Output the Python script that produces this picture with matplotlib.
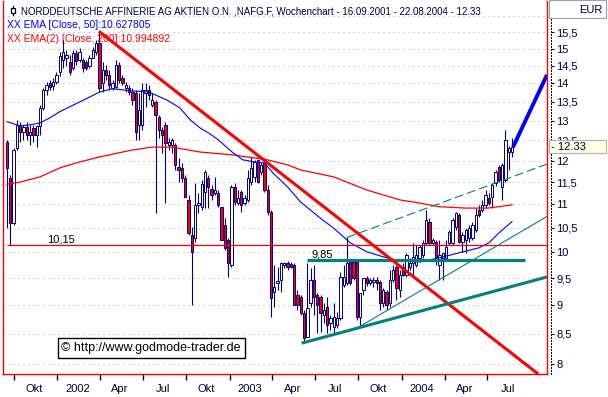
import numpy as np
import pandas as pd
import matplotlib
matplotlib.use("Agg")
import matplotlib.pyplot as plt
from matplotlib.ticker import FixedLocator, FixedFormatter, NullLocator
from matplotlib.patches import Rectangle
from matplotlib.lines import Line2D

plt.rcParams["font.family"] = ["Liberation Sans", "DejaVu Sans"]

# ==========================================
# 1) data (weekly candles, 16.09.2001 - 22.08.2004)
# ==========================================
START = pd.Timestamp("2001-09-16")

open_ = [
    12.46, 11.60, 10.60, 12.31, 12.89, 12.71, 12.84, 12.63, 12.81, 12.63,
    12.86, 13.33, 13.82, 14.02, 13.93, 14.04, 14.32, 14.67, 14.73, 14.61,
    14.44, 14.88, 14.67, 14.67, 14.61, 14.49, 14.73, 14.90, 15.17, 14.02,
    14.38, 14.24, 13.88, 13.90, 14.52, 14.16, 13.88, 13.88, 13.76, 13.73,
    12.89, 12.89, 13.73, 13.82, 13.41, 13.49, 13.10, 12.76, 12.89, 12.38,
    12.38, 12.38, 11.85, 11.83, 11.60, 11.10, 10.35, 10.29, 10.99, 10.95,
    11.28, 11.60, 11.34, 11.25, 11.25, 10.95, 10.56, 10.25, 9.75, 11.39,
    11.03, 11.28, 11.03, 11.10, 11.50, 11.62, 12.02, 11.73, 11.95, 11.32,
    10.84, 9.24, 9.41, 9.46, 9.75, 9.79, 9.77, 9.75, 9.18, 9.15,
    8.86, 8.45, 9.04, 9.46, 9.18, 9.15, 8.83, 8.97, 8.69, 8.62,
    8.65, 8.77, 9.37, 9.41, 9.81, 9.81, 9.81, 8.79, 9.28, 9.50,
    9.41, 9.43, 9.46, 9.43, 9.04, 9.24, 9.04, 9.46, 9.71, 9.28,
    9.71, 9.56, 9.71, 9.79, 9.75, 9.89, 9.95, 10.19, 10.62, 10.19,
    10.21, 9.75, 9.89, 9.89, 10.19, 10.19, 10.52, 10.77, 10.21, 10.25,
    10.29, 10.29, 10.45, 10.88, 10.88, 10.99, 11.14, 11.17, 11.48, 11.85,
    11.39, 11.55, 12.21, 12.21,
]
high_ = [
    12.51, 11.66, 12.31, 13.02, 12.97, 12.89, 12.97, 12.89, 12.89, 12.89,
    13.41, 13.88, 14.04, 14.10, 14.16, 14.32, 14.90, 15.26, 14.96, 14.82,
    14.96, 14.96, 15.02, 14.73, 14.67, 14.82, 15.05, 15.26, 15.48, 14.61,
    14.52, 14.38, 14.10, 14.67, 14.61, 14.24, 14.04, 13.96, 13.88, 13.82,
    13.73, 14.02, 14.02, 13.96, 13.73, 13.54, 13.15, 12.84, 12.97, 12.56,
    12.56, 12.43, 12.07, 11.95, 11.66, 11.21, 10.52, 11.48, 11.25, 11.55,
    11.78, 11.66, 11.43, 11.62, 11.32, 10.95, 10.70, 10.29, 11.43, 11.48,
    11.32, 11.32, 11.21, 11.78, 12.09, 12.02, 12.02, 11.97, 12.07, 11.43,
    10.88, 9.75, 9.71, 9.81, 9.81, 9.83, 9.81, 9.79, 9.28, 9.18,
    8.91, 9.79, 9.69, 9.75, 9.22, 9.18, 9.04, 9.15, 8.83, 9.04,
    8.88, 9.62, 9.75, 10.31, 9.85, 9.85, 9.81, 9.22, 9.50, 9.54,
    9.50, 9.52, 9.52, 9.46, 9.31, 9.28, 9.65, 9.75, 9.75, 9.65,
    9.79, 9.99, 9.89, 10.19, 10.15, 10.15, 10.25, 10.88, 10.70, 10.29,
    10.25, 10.25, 9.99, 10.25, 10.45, 10.70, 10.84, 10.81, 10.41, 10.49,
    10.56, 10.62, 10.92, 10.99, 11.10, 11.32, 11.25, 11.48, 11.78, 11.90,
    11.95, 12.76, 12.36, 12.56,
]
low_ = [
    10.49, 10.15, 10.56, 12.26, 12.46, 12.51, 12.51, 12.38, 12.46, 12.33,
    12.63, 13.28, 13.68, 13.82, 13.82, 13.99, 14.21, 14.44, 14.49, 14.24,
    14.38, 14.52, 14.61, 14.32, 14.38, 14.44, 14.73, 14.82, 13.76, 13.76,
    14.10, 13.82, 13.82, 13.88, 14.02, 13.96, 13.76, 13.68, 13.41, 12.51,
    12.51, 12.76, 13.36, 13.54, 13.36, 10.81, 12.56, 12.19, 11.03, 12.26,
    12.19, 11.78, 11.50, 11.50, 11.17, 10.35, 9.00, 10.21, 10.81, 10.88,
    10.92, 10.92, 11.10, 11.21, 10.95, 10.25, 10.05, 9.52, 9.71, 10.99,
    10.99, 10.84, 10.99, 11.05, 11.43, 11.50, 11.48, 11.66, 11.28, 10.77,
    8.79, 8.96, 9.28, 9.24, 9.69, 9.65, 9.69, 9.00, 8.91, 8.83,
    8.34, 8.45, 8.96, 8.83, 8.52, 8.54, 8.69, 8.52, 8.57, 8.52,
    8.60, 8.74, 9.33, 9.37, 9.37, 9.46, 8.74, 8.62, 9.18, 9.35,
    9.37, 9.33, 9.28, 8.91, 8.96, 8.91, 8.96, 9.43, 9.09, 9.15,
    9.54, 9.52, 9.65, 9.52, 9.71, 9.81, 9.89, 10.15, 10.15, 10.15,
    9.75, 9.46, 9.46, 9.85, 10.15, 10.15, 10.45, 10.19, 10.01, 9.99,
    10.21, 10.25, 10.41, 10.73, 10.84, 10.92, 10.99, 10.92, 11.41, 11.50,
    11.10, 11.50, 11.78, 12.09,
]
close_ = [
    11.83, 10.60, 12.26, 12.89, 12.71, 12.84, 12.63, 12.71, 12.63, 12.86,
    13.33, 13.82, 13.96, 13.90, 14.04, 14.24, 14.79, 14.90, 14.82, 14.32,
    14.88, 14.64, 14.90, 14.44, 14.44, 14.73, 14.96, 15.17, 13.88, 14.38,
    14.24, 13.96, 14.02, 14.52, 14.10, 14.02, 13.96, 13.76, 13.54, 12.71,
    13.28, 13.82, 13.82, 13.68, 13.54, 13.15, 12.76, 12.63, 12.43, 12.46,
    12.51, 11.90, 11.78, 11.60, 11.17, 10.39, 10.01, 10.99, 11.03, 11.45,
    11.73, 11.39, 11.21, 11.32, 10.99, 10.25, 10.09, 9.79, 11.39, 11.05,
    11.14, 10.99, 11.14, 11.60, 11.83, 11.97, 11.50, 11.90, 11.32, 10.84,
    9.13, 9.33, 9.45, 9.79, 9.79, 9.71, 9.71, 9.00, 9.00, 8.86,
    8.43, 8.95, 9.46, 9.15, 9.00, 8.86, 8.91, 8.65, 8.77, 8.79,
    8.77, 9.52, 9.52, 9.79, 9.41, 9.50, 8.79, 9.22, 9.50, 9.41,
    9.46, 9.46, 9.41, 9.04, 9.28, 9.00, 9.46, 9.65, 9.31, 9.56,
    9.56, 9.95, 9.79, 9.91, 9.95, 10.11, 10.19, 10.66, 10.19, 10.25,
    9.91, 9.95, 9.99, 10.11, 10.41, 10.66, 10.81, 10.21, 10.35, 10.45,
    10.49, 10.56, 10.77, 10.77, 10.99, 11.21, 11.03, 11.43, 11.73, 11.55,
    11.90, 12.51, 12.31, 12.33,
]

# EMA lines (week index, price)
ema50_weeks = [0, 4, 7, 10, 13, 16, 19, 22, 25, 28, 32, 38, 43, 48.5, 52.4,
               55.5, 58.5, 61.5, 64, 68.5, 71.5, 76.7, 78, 80.6, 85, 89, 95,
               99, 104, 109, 114, 119, 125, 131, 137, 143, 146, 149, 153]
ema50_vals = [12.97, 12.86, 12.89, 12.94, 13.07, 13.23, 13.36, 13.49, 13.62,
              13.76, 13.85, 13.79, 13.76, 13.54, 13.33, 13.02, 12.81, 12.66,
              12.51, 12.19, 12.02, 11.95, 11.95, 11.71, 11.39, 11.05, 10.70,
              10.49, 10.19, 10.01, 9.91, 9.83, 9.81, 9.89, 9.99, 10.09, 10.19,
              10.39, 10.63]
ema200_weeks = [0, 4, 10, 16, 22, 28, 38, 44, 50, 58.5, 68.5, 79, 85, 89, 99,
                109, 119, 125, 131, 139, 145.5, 149, 153]
ema200_vals = [11.45, 11.50, 11.62, 11.83, 11.97, 12.09, 12.26, 12.33, 12.33,
               12.21, 12.14, 12.02, 11.90, 11.78, 11.62, 11.32, 11.10, 11.03,
               10.95, 10.92, 10.92, 10.95, 10.99]

# drawn trend lines (week index, price)
down_weeks, down_vals = [28.2, 160.6], [15.5, 7.86]
up_thick_weeks, up_thick_vals = [89.7, 163.6], [8.35, 9.52]
up_thin_weeks, up_thin_vals = [106.1, 163.6], [8.60, 10.74]
up_dash_weeks, up_dash_vals = [103.0, 163.6], [10.30, 11.92]
proj_weeks, proj_vals = [153.3, 163.6], [12.33, 14.24]
support_level, support_from, support_to = 9.85, 90.9, 157.0
base_level = 10.15

quarter_dates = pd.to_datetime([
    "2001-10-01", "2002-01-01", "2002-04-01", "2002-07-01", "2002-10-01",
    "2003-01-01", "2003-04-01", "2003-07-01", "2003-10-01", "2004-01-01",
    "2004-04-01", "2004-07-01"])
quarter_labels = ["Okt", "2002", "Apr", "Jul", "Okt", "2003", "Apr", "Jul",
                  "Okt", "2004", "Apr", "Jul"]

price_levels = [8, 8.5, 9, 9.5, 10, 10.5, 11, 11.5, 12, 12.5, 13, 13.5, 14,
                14.5, 15, 15.5]
price_labels = ["8", "8,5", "9", "9,5", "10", "10,5", "11", "11,5", "12",
                "12,5", "13", "13,5", "14", "14,5", "15", "15,5"]
grid_levels = price_levels + [16]

NAVY = "#000080"
TXT = "#00003c"
TEAL = "#008080"

W, H = 608, 397


def fx(px):
    return px / W


def fy(py):
    return 1 - py / H


# ==========================================
# 2) figure
# ==========================================
fig = plt.figure(figsize=(W / 100, H / 100), dpi=100)
fig.patch.set_facecolor("white")
ax = fig.add_axes([fx(3), 23 / H, 544 / W, 373 / H])
ax.set_yscale("log")

o = np.array(open_)
c = np.array(close_)
hi = np.array(high_)
lo = np.array(low_)
x = np.arange(len(c))
up = c >= o

ax.vlines(x, lo, hi, color=NAVY, lw=0.8, zorder=2)
body_lo = np.minimum(o, c)
body_hi = np.maximum(o, c)
ax.bar(x, body_hi - body_lo, bottom=body_lo, width=0.7,
       color=np.where(up, "white", "red"), edgecolor=NAVY, linewidth=0.7,
       zorder=3)

ax.plot(ema200_weeks, ema200_vals, color="red", lw=0.9, zorder=4)
ax.plot(ema50_weeks, ema50_vals, color="blue", lw=0.8, zorder=4)

ax.hlines(base_level, 0, 170, color="red", lw=0.9, zorder=4)
ax.hlines(support_level, support_from, support_to, color=TEAL, lw=2.3, zorder=4)
ax.plot(down_weeks, down_vals, color="red", lw=2.2, zorder=5)
ax.plot(up_thick_weeks, up_thick_vals, color=TEAL, lw=2.2, zorder=5)
ax.plot(up_thin_weeks, up_thin_vals, color=TEAL, lw=0.8, zorder=5)
ax.plot(up_dash_weeks, up_dash_vals, color=TEAL, lw=0.8, ls=(0, (8, 3.5)), zorder=5)
ax.plot(proj_weeks, proj_vals, color="blue", lw=2.8, solid_capstyle="butt", zorder=5)

ax.set_xlim(-1.2, 163.6)
ax.set_ylim(7.847, 16.495)

# y grid only (labels on the right panel)
ax.yaxis.set_major_locator(FixedLocator(grid_levels))
ax.yaxis.set_minor_locator(NullLocator())
ax.tick_params(axis="y", which="both", left=False, right=False, labelleft=False)
ax.grid(axis="y", color="#a8a8a8", lw=0.72, ls=(0, (1, 4)))

# x axis: quarter ticks, labels in the middle of the quarter
tick_x = (quarter_dates - START).days.values / 7
ax.set_xticks(tick_x)
ax.set_xticklabels([])
ax.set_xticks(tick_x + 43 / 7, minor=True)
ax.set_xticklabels(quarter_labels, minor=True)
ax.tick_params(axis="x", which="major", direction="out", length=4.5, width=1, color=TXT)
ax.tick_params(axis="x", which="minor", length=0, pad=7, labelsize=8, labelcolor=TXT)

for s in ["left", "right", "bottom"]:
    ax.spines[s].set_color("red")
    ax.spines[s].set_linewidth(1.0)
ax.spines["top"].set_visible(False)

# header texts
ax.text(fx(21), fy(15), "NORDDEUTSCHE AFFINERIE AG AKTIEN O.N. ,NAFG.F, Wochenchart - 16.09.2001 - 22.08.2004 - 12.33",
        transform=fig.transFigure, fontsize=7, color=TXT, va="baseline", zorder=1)
ax.text(fx(7), fy(28.5), "XX EMA [Close, 50]:10.627805", transform=fig.transFigure,
        fontsize=7.5, color="blue", va="baseline", zorder=1)
ax.text(fx(7), fy(42), "XX EMA(2) [Close, 200]:10.994892", transform=fig.transFigure,
        fontsize=7.5, color="red", va="baseline", zorder=1)
ax.add_patch(Rectangle((fx(10.5), fy(12.5)), 4 / W, 4.5 / H, transform=fig.transFigure,
                       fc="white", ec=TXT, lw=0.9, zorder=1))
ax.add_line(Line2D([fx(12.5), fx(12.5)], [fy(5.5), fy(8)], transform=fig.transFigure,
                   color=TXT, lw=0.9))
ax.add_line(Line2D([fx(12.5), fx(12.5)], [fy(12.5), fy(15)], transform=fig.transFigure,
                   color=TXT, lw=0.9))

ax.text(fx(47), fy(242), "10,15", transform=fig.transFigure, fontsize=8,
        color="black", va="baseline", zorder=6)
ax.text(fx(312), fy(257.5), "9,85", transform=fig.transFigure, fontsize=8,
        color="black", va="baseline", zorder=6)

fig.text(fx(151), fy(348), "\u00a9 http://www.godmode-trader.de", fontsize=9,
         color="black", ha="center", va="center",
         bbox=dict(boxstyle="square,pad=0.3", fc="white", ec="black", lw=1.0))

# ==========================================
# 3) price scale on the right
# ==========================================
ax2 = fig.add_axes([fx(548), 23 / H, 3 / W, 373 / H])
ax2.set_yscale("log")
ax2.set_ylim(7.847, 16.495)
ax2.set_xlim(0, 1)
ax2.patch.set_visible(False)
for s in ["left", "top", "bottom"]:
    ax2.spines[s].set_visible(False)
ax2.spines["right"].set_linestyle((0, (1, 2)))
ax2.spines["right"].set_linewidth(0.72)
ax2.spines["right"].set_color(TXT)
ax2.set_xticks([])
ax2.yaxis.tick_right()
ax2.yaxis.set_major_locator(FixedLocator(price_levels))
ax2.yaxis.set_major_formatter(FixedFormatter(price_labels))
ax2.yaxis.set_minor_locator(NullLocator())
ax2.tick_params(axis="y", which="major", direction="out", length=2, width=0.8,
                pad=2, labelsize=8, colors=TXT)

fig.add_artist(Rectangle((fx(549), fy(18)), 57 / W, 18 / H, transform=fig.transFigure,
                         fc="white", ec="#a0a0a0", lw=0.8))
fig.text(fx(602), fy(10), "EUR", fontsize=8, color=TXT, ha="right", va="center")

fig.add_artist(Rectangle((fx(549), fy(153)), 57 / W, 13 / H, transform=fig.transFigure,
                         fc="#ffffe1", ec="#b0b0b0", lw=0.8))
fig.text(fx(551), fy(147), "- 12.33", fontsize=8, color=TXT, ha="left", va="center")

fig.savefig("out.png", dpi=100)
